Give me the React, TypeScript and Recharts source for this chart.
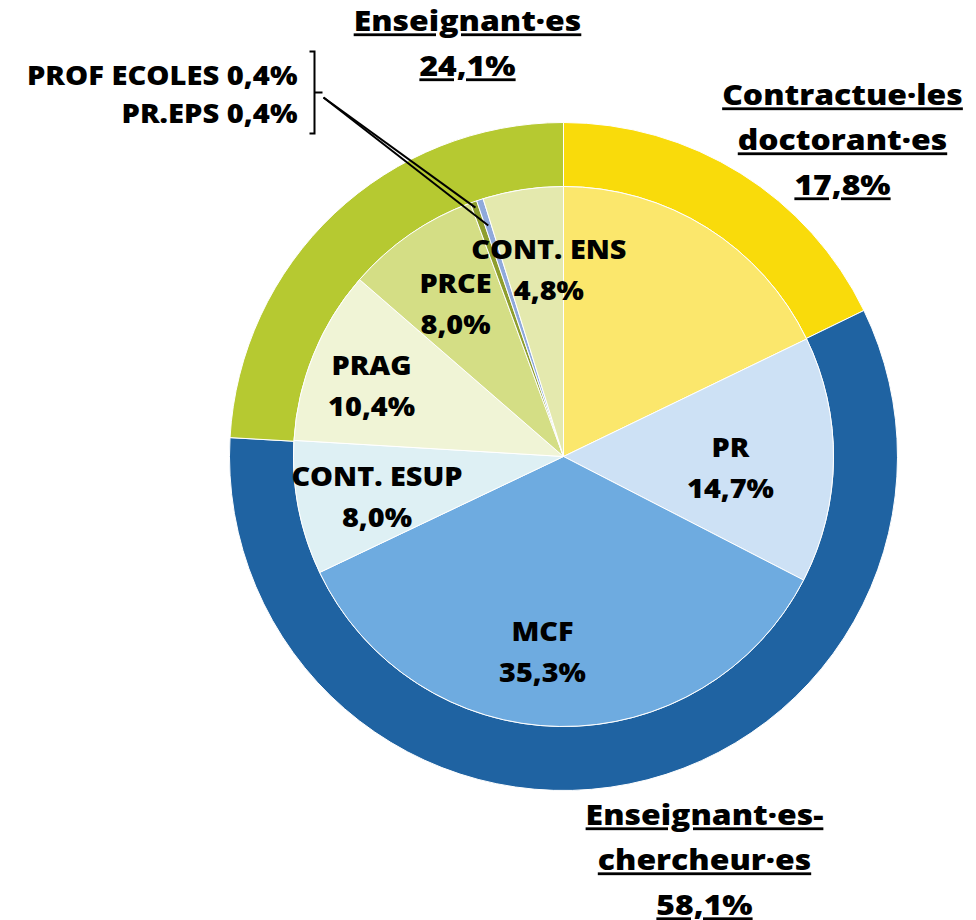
import { PieChart, Pie, Cell } from 'recharts';

const GROUP_NAMES = ['Contractue·les doctorant·es', 'Enseignant·es-chercheur·es', 'Enseignant·es'];
const GROUP_LINES = [['Contractue·les', 'doctorant·es'], ['Enseignant·es-', 'chercheur·es'], ['Enseignant·es']];
const GROUP_VALUES = [17.8, 58.1, 24.1];
const GROUP_COLORS = ['#F9DB0B', '#1F63A2', '#B6C931'];

const INNER_NAMES = ['Doctorant·es', 'PR', 'MCF', 'CONT. ESUP', 'PRAG', 'PRCE', 'PROF ECOLES', 'PR.EPS', 'CONT. ENS'];
const INNER_VALUES = [17.8, 14.7, 35.3, 8.0, 10.4, 8.0, 0.4, 0.4, 4.8];
const INNER_COLORS = ['#FBE76C', '#CDE1F5', '#6EABE0', '#DEF0F4', '#F0F4D6', '#D4DE85', '#8E9E2E', '#8FA9DB', '#E4E9AE'];

const groupData = GROUP_NAMES.map((name, i) => ({ name, value: GROUP_VALUES[i] }));
const innerData = INNER_NAMES.map((name, i) => ({ name, value: INNER_VALUES[i] }));

const FONT = '"Open Sans", "Noto Sans", sans-serif';
const RAD = Math.PI / 180;
const fmt = (v: number) => `${v.toFixed(1).replace('.', ',')}%`;
// the source font is set a little wider than Open Sans
const stretch = (x: number, k: number) => `translate(${x},0) scale(${k},1) translate(${-x},0)`;

// where the group titles sit, relative to the pie centre (first baseline)
const GROUP_LABEL_OFFSET: [number, number][] = [[279, -351], [141, 369], [-96, -425]];
// hand nudges for the inner labels
const INNER_NUDGE: Record<string, [number, number]> = {
  PR: [-23, 5], MCF: [-18, 2], PRAG: [-16, -3], 'CONT. ENS': [14, -3],
};

function GroupLabel(props: any) {
  const { cx, cy, index } = props;
  const [dx, dy] = GROUP_LABEL_OFFSET[index];
  const x = cx + dx;
  const lines = [...GROUP_LINES[index], fmt(GROUP_VALUES[index])];
  return (
    <text x={x} y={cy + dy} textAnchor="middle" fontFamily={FONT} fontWeight={800} fontSize={28}
      fill="#000" style={{ textDecoration: 'underline' }} transform={stretch(x, 1.14)}>
      {lines.map((l, i) => (
        <tspan key={i} x={x} dy={i === 0 ? 0 : 45}>{l}</tspan>
      ))}
    </text>
  );
}

function InnerLabel(props: any) {
  const { cx, cy, midAngle, index } = props;
  const name = INNER_NAMES[index];
  if (index === 0) return null;
  if (name === 'PROF ECOLES' || name === 'PR.EPS') {
    const r = name === 'PROF ECOLES' ? 264 : 243;
    const ex = cx + r * Math.cos(-midAngle * RAD);
    const ey = cy + r * Math.sin(-midAngle * RAD);
    const tx = cx - 240;
    const ty = cy - 359;
    const textY = name === 'PROF ECOLES' ? cy - 371 : cy - 333;
    const rx = cx - 266;
    return (
      <g>
        <line x1={tx} y1={ty} x2={ex} y2={ey} stroke="#000" strokeWidth={2} />
        {name === 'PROF ECOLES' && (
          <path d={`M${cx - 254},${cy - 405} H${cx - 249} V${cy - 323} H${cx - 254} M${cx - 249},${cy - 364} H${cx - 241}`}
            fill="none" stroke="#000" strokeWidth={2} />
        )}
        <text x={rx} y={textY} textAnchor="end" fontFamily={FONT} fontWeight={800} fontSize={26} fill="#000"
          transform={stretch(rx, 1.12)}>
          {`${name} ${fmt(INNER_VALUES[index])}`}
        </text>
      </g>
    );
  }
  const r = 190;
  const [nx, ny] = INNER_NUDGE[name] ?? [0, 0];
  const x = cx + r * Math.cos(-midAngle * RAD) + nx;
  const y = cy + r * Math.sin(-midAngle * RAD) + ny;
  return (
    <text x={x} y={y - 7} textAnchor="middle" fontFamily={FONT} fontWeight={800} fontSize={26} fill="#000"
      transform={stretch(x, 1.11)}>
      <tspan x={x} dy={0}>{name}</tspan>
      <tspan x={x} dy={41}>{fmt(INNER_VALUES[index])}</tspan>
    </text>
  );
}

export default function App() {
  return (
    <div style={{ width: 976, height: 920, background: '#fff' }}>
      <style>{'body{margin:0}'}</style>
      <PieChart width={976} height={920} margin={{ top: 0, right: 0, bottom: 0, left: 0 }}>
        <Pie data={groupData} dataKey="value" cx={563.5} cy={456.5} innerRadius={270} outerRadius={334}
          startAngle={90} endAngle={-270} stroke="#fff" strokeWidth={1} label={GroupLabel} labelLine={false}
          isAnimationActive={false}>
          {groupData.map((d, i) => <Cell key={d.name} fill={GROUP_COLORS[i]} />)}
        </Pie>
        <Pie data={innerData} dataKey="value" cx={563.5} cy={456.5} innerRadius={0} outerRadius={270}
          startAngle={90} endAngle={-270} stroke="#fff" strokeWidth={1} label={InnerLabel} labelLine={false}
          isAnimationActive={false}>
          {innerData.map((d, i) => <Cell key={d.name} fill={INNER_COLORS[i]} />)}
        </Pie>
      </PieChart>
    </div>
  );
}
